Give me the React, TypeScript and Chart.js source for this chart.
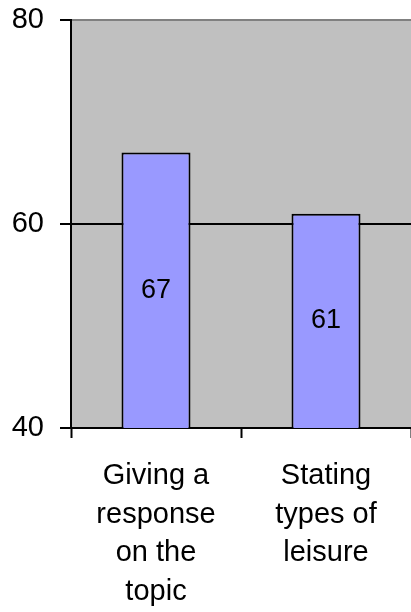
import React, { useEffect, useRef } from "react";
import { Chart, registerables } from "chart.js";

Chart.register(...registerables);

const categories: string[][] = [
  ["Giving a", "response", "on the", "topic"],
  ["Stating", "types of", "leisure"],
];
const values: number[] = [67, 61];
const yTicks: number[] = [40, 60, 80];

const FONT = "'Liberation Sans', Arial, sans-serif";

const bgPlugin = {
  id: "plotBg",
  beforeDraw(chart: any) {
    const { ctx, chartArea } = chart;
    ctx.save();
    ctx.fillStyle = "#C0C0C0";
    ctx.fillRect(chartArea.left, chartArea.top, chartArea.right - chartArea.left, chartArea.bottom - chartArea.top);
    ctx.restore();
  },
};

const labelPlugin = {
  id: "barLabels",
  afterDatasetsDraw(chart: any) {
    const { ctx, chartArea } = chart;
    const meta = chart.getDatasetMeta(0);
    ctx.save();
    ctx.font = `27px ${FONT}`;
    ctx.fillStyle = "#000";
    ctx.textAlign = "center";
    ctx.textBaseline = "middle";
    meta.data.forEach((bar: any, i: number) => {
      const base = Math.min(bar.base, chartArea.bottom);
      const y = (bar.y + base) / 2;
      ctx.fillText(String(values[i]), bar.x, y);
    });
    ctx.restore();
  },
};

export default function App() {
  const ref = useRef<HTMLCanvasElement>(null);
  useEffect(() => {
    if (!ref.current) return;
    const chart = new Chart(ref.current, {
      type: "bar",
      data: {
        labels: categories,
        datasets: [
          {
            data: values,
            backgroundColor: "#9999FF",
            borderColor: "#000",
            borderWidth: 2,
            borderSkipped: false,
            categoryPercentage: 1,
            barPercentage: 0.406,
          },
        ],
      },
      options: {
        animation: false,
        responsive: false,
        maintainAspectRatio: false,
        layout: { padding: { top: 20, left: 0, right: 0, bottom: 0 } },
        plugins: { legend: { display: false }, tooltip: { enabled: false } },
        scales: {
          x: {
            offset: true,
            grid: {
              offset: true,
              drawOnChartArea: false,
              drawTicks: true,
              tickLength: 10,
              tickColor: "#000",
              tickWidth: 2,
            },
            border: { color: "#000", width: 2 },
            ticks: {
              color: "#000",
              font: { family: FONT, size: 29, lineHeight: 1.33 },
              padding: 19,
              maxRotation: 0,
              minRotation: 0,
              autoSkip: false,
            },
            afterFit(scale: any) {
              scale.height = 184;
              scale.paddingLeft = 0;
              scale.paddingRight = 0;
            },
          },
          y: {
            min: 40,
            max: 80,
            afterBuildTicks(scale: any) {
              scale.ticks = yTicks.map((v) => ({ value: v }));
            },
            grid: {
              color: (c: any) => (c.tick && c.tick.value === 80 ? "#808080" : "#000"),
              lineWidth: 2,
              tickLength: 11,
              tickColor: "#000",
              tickWidth: 2,
            },
            border: { color: "#000", width: 2 },
            ticks: {
              color: "#000",
              font: { family: FONT, size: 29 },
              padding: 16,
            },
            afterFit(scale: any) {
              scale.width = 71;
              scale.paddingTop = 0;
              scale.paddingBottom = 0;
            },
          },
        },
      },
      plugins: [bgPlugin, labelPlugin],
    });
    return () => chart.destroy();
  }, []);
  return (
    <div style={{ position: "absolute", left: 0, top: 0, width: 411, height: 612 }}>
      <canvas ref={ref} width={411} height={612} style={{ display: "block" }} />
    </div>
  );
}
